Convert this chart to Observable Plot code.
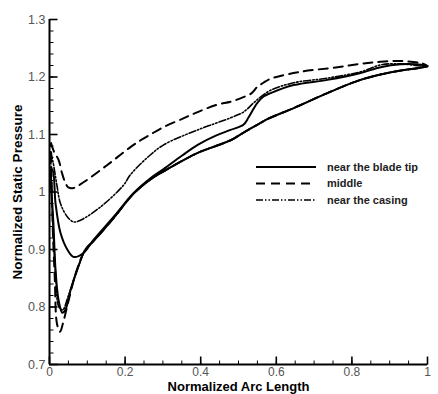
<!DOCTYPE html>
<html><head><meta charset="utf-8">
<script src="https://cdn.jsdelivr.net/npm/d3@7"></script>
<script src="https://cdn.jsdelivr.net/npm/@observablehq/plot@0.6"></script>
<style>
body{margin:0;background:#fff;font-family:"Liberation Sans",Arial,sans-serif}
#c{position:relative;width:438px;height:394px;overflow:hidden}
#legend{position:absolute;left:254px;top:158px}
</style>
</head><body><div id="c"></div>
<script>
const seriesNames = ["near the blade tip", "middle", "near the casing"];
const dashes = ["none", "9,6", "7,2,1.5,2,1.5,2"];
const widths = [2, 2, 1.6];

// near the blade tip: upper branch (leading edge -> trailing edge), lower branch (trailing edge -> leading edge)
const tipUpperX = [0.002,0.008,0.016,0.029,0.047,0.064,0.09,0.117,0.17,0.222,0.267,0.302,0.35,0.392,0.44,0.479,0.513,0.526,0.54,0.55,0.566,0.585,0.646,0.735,0.823,0.876,0.929,0.97,1.0];
const tipUpperY = [1.035,1.038,0.98,0.929,0.9,0.887,0.894,0.917,0.957,0.998,1.024,1.04,1.063,1.082,1.098,1.108,1.117,1.129,1.145,1.155,1.166,1.172,1.186,1.195,1.207,1.217,1.222,1.222,1.219];
const tipLowerX = [1.0,0.989,0.91,0.823,0.735,0.646,0.577,0.558,0.52,0.479,0.44,0.392,0.302,0.267,0.222,0.17,0.117,0.095,0.073,0.056,0.042,0.034,0.024,0.016,0.01,0.004,0.002];
const tipLowerY = [1.219,1.217,1.209,1.195,1.172,1.146,1.127,1.12,1.106,1.09,1.08,1.068,1.036,1.022,0.997,0.955,0.915,0.9,0.864,0.83,0.795,0.79,0.812,0.864,0.95,1.01,1.035];

// middle
const midUpperX = [0.004,0.012,0.024,0.033,0.042,0.05,0.064,0.09,0.153,0.214,0.241,0.267,0.302,0.354,0.392,0.444,0.479,0.513,0.535,0.55,0.566,0.585,0.664,0.762,0.823,0.868,0.921,0.963,0.985,1.0];
const midUpperY = [1.085,1.07,1.056,1.033,1.016,1.008,1.007,1.017,1.047,1.078,1.09,1.1,1.113,1.128,1.139,1.152,1.157,1.165,1.172,1.183,1.19,1.197,1.209,1.217,1.223,1.226,1.228,1.226,1.224,1.219];
const midLowerX = [1.0,0.989,0.91,0.823,0.735,0.646,0.577,0.558,0.52,0.479,0.44,0.392,0.302,0.267,0.222,0.17,0.117,0.095,0.07,0.05,0.035,0.028,0.02,0.014,0.008,0.004];
const midLowerY = [1.219,1.217,1.209,1.195,1.172,1.146,1.127,1.12,1.106,1.09,1.08,1.068,1.036,1.022,0.997,0.955,0.915,0.9,0.86,0.81,0.77,0.757,0.77,0.85,0.95,1.085];

// near the casing
const casUpperX = [0.003,0.01,0.02,0.029,0.047,0.064,0.082,0.135,0.196,0.214,0.259,0.302,0.392,0.479,0.513,0.54,0.558,0.585,0.646,0.735,0.823,0.876,0.929,0.981,1.0];
const casUpperY = [1.07,1.05,1.01,0.98,0.957,0.948,0.951,0.974,1.012,1.03,1.06,1.082,1.108,1.129,1.139,1.155,1.165,1.177,1.19,1.198,1.209,1.221,1.223,1.219,1.218];
const casLowerX = [1.0,0.989,0.91,0.823,0.735,0.646,0.577,0.558,0.52,0.479,0.44,0.392,0.302,0.267,0.222,0.17,0.117,0.095,0.073,0.05,0.035,0.025,0.016,0.008,0.003];
const casLowerY = [1.218,1.217,1.209,1.195,1.172,1.146,1.127,1.12,1.106,1.09,1.08,1.068,1.036,1.022,0.997,0.955,0.915,0.9,0.864,0.82,0.795,0.8,0.86,0.96,1.07];

const xMajor = [0, 0.2, 0.4, 0.6, 0.8, 1];
const yMajor = [0.7, 0.8, 0.9, 1.0, 1.1, 1.2, 1.3];
const xMinor = d3.range(0, 21).map(i => i * 0.05);
const yMinor = d3.range(0, 31).map(i => 0.7 + i * 0.02);
const xTitle = "Normalized Arc Length";
const yTitle = "Normalized Static Pressure";

function rows(xs, ys, s) { return xs.map((x, i) => ({x, y: ys[i], s})); }
const series = [
  rows(tipUpperX, tipUpperY, 0).concat(rows(tipLowerX, tipLowerY, 0)),
  rows(midUpperX, midUpperY, 1).concat(rows(midLowerX, midLowerY, 1)),
  rows(casUpperX, casUpperY, 2).concat(rows(casLowerX, casLowerY, 2))
];

const W = 438, H = 394, mL = 49, mR = 11, mT = 19, mB = 30;
const xDom = [0, 1], yDom = [0.7, 1.3];
// tick lengths in pixels converted to data units
const xPerPx = (xDom[1] - xDom[0]) / (W - mL - mR);
const yPerPx = (yDom[1] - yDom[0]) / (H - mT - mB);
const minorLen = 4, majorLen = 8;

const chart = Plot.plot({
  width: W, height: H,
  marginLeft: mL, marginRight: mR, marginTop: mT, marginBottom: mB,
  style: {fontFamily: '"Liberation Sans", Arial, sans-serif', background: "#fff", overflow: "visible"},
  x: {domain: xDom, axis: null},
  y: {domain: yDom, axis: null},
  marks: [
    ...[2, 1, 0].map(i => Plot.line(series[i], {x: "x", y: "y", stroke: "#000", strokeWidth: widths[i], strokeDasharray: dashes[i] === "none" ? null : dashes[i], curve: "catmull-rom"})),
    // minor & major ticks pointing inward
    Plot.link(xMinor, {x1: d => d, x2: d => d, y1: () => yDom[0], y2: () => yDom[0] + minorLen * yPerPx, stroke: "#000", strokeWidth: 1}),
    Plot.link(xMajor, {x1: d => d, x2: d => d, y1: () => yDom[0], y2: () => yDom[0] + majorLen * yPerPx, stroke: "#000", strokeWidth: 1.6}),
    Plot.link(yMinor, {y1: d => d, y2: d => d, x1: () => xDom[0], x2: () => xDom[0] + minorLen * xPerPx, stroke: "#000", strokeWidth: 1}),
    Plot.link(yMajor, {y1: d => d, y2: d => d, x1: () => xDom[0], x2: () => xDom[0] + majorLen * xPerPx, stroke: "#000", strokeWidth: 1.6}),
    Plot.axisX({ticks: xMajor, tickSize: 0, tickPadding: 3, fontSize: 12, fill: "#555", label: null, tickFormat: d => String(d)}),
    Plot.axisY({ticks: yMajor, tickSize: 0, tickPadding: 4, fontSize: 12.5, fill: "#555", label: null, tickFormat: d => String(+d.toFixed(1))}),
    Plot.ruleX([0], {stroke: "#000", strokeWidth: 2}),
    Plot.ruleY([0.7], {stroke: "#000", strokeWidth: 2}),
    Plot.text([yTitle], {text: d => d, frameAnchor: "left", textAnchor: "middle", rotate: -90, dx: -32, fontSize: 13.5, fontWeight: "bold", fill: "#000"}),
    Plot.text([xTitle], {text: d => d, frameAnchor: "bottom", textAnchor: "middle", dy: 22, lineAnchor: "middle", fontSize: 13, fontWeight: "bold", fill: "#000"})
  ]
});
const c = document.getElementById("c");
c.appendChild(chart);

// legend
const ns = "http://www.w3.org/2000/svg";
const lg = document.createElementNS(ns, "svg");
lg.setAttribute("id", "legend");
lg.setAttribute("width", 184); lg.setAttribute("height", 52);
seriesNames.forEach((name, i) => {
  const yy = 9 + i * 16.5;
  const l = document.createElementNS(ns, "line");
  l.setAttribute("x1", 2); l.setAttribute("x2", 62);
  l.setAttribute("y1", yy); l.setAttribute("y2", yy);
  l.setAttribute("stroke", "#000"); l.setAttribute("stroke-width", widths[i]);
  if (dashes[i] !== "none") l.setAttribute("stroke-dasharray", dashes[i]);
  lg.appendChild(l);
  const t = document.createElementNS(ns, "text");
  t.setAttribute("x", 73); t.setAttribute("y", yy);
  t.setAttribute("dy", "0.35em");
  t.setAttribute("font-size", 11); t.setAttribute("font-weight", "bold");
  t.setAttribute("fill", "#222");
  t.setAttribute("font-family", '"Liberation Sans", Arial, sans-serif');
  t.textContent = name;
  lg.appendChild(t);
});
c.appendChild(lg);
</script>
</body></html>
